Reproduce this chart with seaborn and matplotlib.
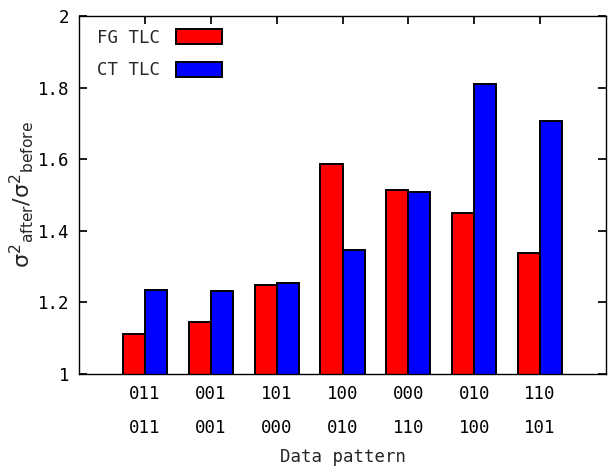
import pandas as pd
import matplotlib
matplotlib.use("Agg")
import matplotlib.pyplot as plt
import seaborn as sns

# data
patterns = ["011\n011", "001\n001", "101\n000", "100\n010", "000\n110", "010\n100", "110\n101"]
fg_tlc = [1.113, 1.146, 1.250, 1.586, 1.515, 1.450, 1.339]
ct_tlc = [1.235, 1.231, 1.254, 1.345, 1.507, 1.810, 1.706]
series = ["FG TLC", "CT TLC"]
y_ticks = [1, 1.2, 1.4, 1.6, 1.8, 2]

df = pd.DataFrame({
    "pattern": patterns * 2,
    "series": [series[0]] * len(patterns) + [series[1]] * len(patterns),
    "ratio": fg_tlc + ct_tlc,
})

sns.set_theme(style="ticks")
plt.rcParams["font.family"] = ["DejaVu Sans Mono"]
plt.rcParams["mathtext.fontset"] = "dejavusans"

fig = plt.figure(figsize=(6.11, 4.71), dpi=100)
ax = fig.add_axes([79 / 611, 1 - 374 / 471, 527 / 611, 358 / 471])

sns.barplot(data=df, x="pattern", y="ratio", hue="series", order=patterns,
            hue_order=series, palette=["#ff0000", "#0000ff"], saturation=1,
            width=0.67, edgecolor="black", linewidth=1.4, ax=ax, legend=True)

# bars start at the bottom of the axis (value 1)
ax.set_ylim(1, 2)
ax.set_xlim(-1, 7)
ax.set_yticks(y_ticks)
ax.set_yticklabels([f"{t:g}" for t in y_ticks])

for s in ax.spines.values():
    s.set_visible(True)
    s.set_color("black")
    s.set_linewidth(1.0)

ax.tick_params(axis="y", direction="in", left=True, right=True, length=6,
               labelsize=12.5, pad=7, colors="black")
ax.tick_params(axis="x", direction="in", bottom=False, top=True, length=6,
               labelsize=12.5, pad=8, colors="black")
for lab in ax.get_xticklabels():
    lab.set_linespacing(2.1)

ax.set_xlabel("Data pattern", fontsize=12.5)
ax.xaxis.set_label_coords(0.5, -0.208)
ax.set_ylabel(r"$\mathregular{σ^2{}_{after}/σ^2{}_{before}}$",
              fontsize=16, va="center", family="DejaVu Sans")
ax.yaxis.set_label_coords(-0.108, 0.5)

handles, labels = ax.get_legend_handles_labels()
ax.legend(handles, labels, loc="upper left", bbox_to_anchor=(0.034, 0.965),
          frameon=False, markerfirst=False, fontsize=12.5, handlelength=2.7,
          handleheight=0.9, handletextpad=0.9, labelspacing=0.85,
          borderaxespad=0, borderpad=0)

fig.savefig("out.png", dpi=100)
